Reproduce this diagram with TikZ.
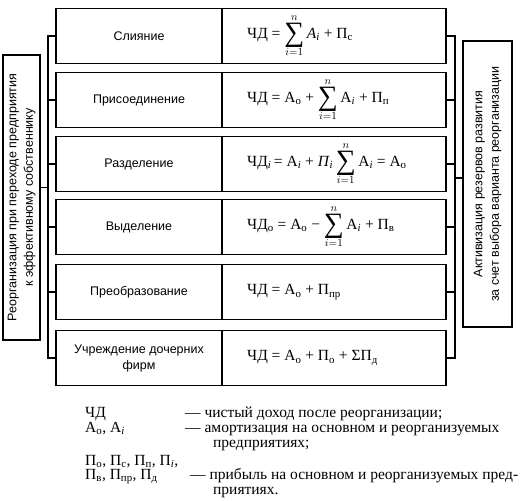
\documentclass[tikz,border=0pt]{standalone}
\usepackage{fontspec}
\setmainfont{Liberation Serif}
\newfontfamily\sfa{Liberation Sans}
\newcommand{\sub}[1]{\textsubscript{#1}}
\newcommand{\bigsum}{$\mathop{\vcenter{\hbox{\fontsize{28}{28}\selectfont ∑}}}\limits^{n}_{i=1}$}
\begin{document}
\begin{tikzpicture}[x=1pt,y=-1pt,
  cell/.style={draw,line width=1.1pt,minimum height=55pt,inner sep=0pt,outer sep=0pt},
  lcell/.style={cell,minimum width=166pt,font=\sfa\fontsize{12.5}{16}\selectfont,align=center},
  rcell/.style={cell,minimum width=224pt},
  fm/.style={anchor=west,font=\fontsize{15.5}{17}\selectfont,inner sep=0pt},
  br/.style={line width=1.8pt},
  side/.style={draw,line width=1.1pt,font=\sfa\fontsize{12.5}{16.5}\selectfont,align=center,rotate=90,inner sep=0pt,outer sep=0pt},
  lg/.style={anchor=base west,inner sep=0pt,font=\fontsize{15.5}{17}\selectfont}]
\useasboundingbox (0,0) rectangle (528,501);
% left cells
\node[lcell] (L1) at (139,36) {Слияние};
\node[lcell] (L2) at (139,100) {Присоединение};
\node[lcell] (L3) at (139,164) {Разделение};
\node[lcell] (L4) at (139,227) {Выделение};
\node[lcell] (L5) at (139,292) {Преобразование};
\node[lcell] (L6) at (139,358) {Учреждение дочерних\\фирм};
% right cells
\node[rcell] (R1) at (334,36) {};
\node[rcell] (R2) at (334,100) {};
\node[rcell] (R3) at (334,164) {};
\node[rcell] (R4) at (334,227) {};
\node[rcell] (R5) at (334,292) {};
\node[rcell] (R6) at (334,358) {};
% formulas
\node[fm] (F1) at ([xshift=25pt]R1.west) {ЧД = \bigsum\,\textit{A}\sub{\textit{i}} + П\sub{с}};
\node[fm] (F2) at ([xshift=25pt]R2.west) {ЧД = А\sub{о} + \bigsum\,А\sub{\textit{i}} + П\sub{п}};
\node[fm] (F3) at ([xshift=25pt]R3.west) {ЧД\sub{\textit{i}}\,= А\sub{\textit{i}} + \textit{П}\sub{\textit{i}}\,\bigsum\,А\sub{\textit{i}} = А\sub{о}};
\node[fm] (F4) at ([xshift=25pt]R4.west) {ЧД\sub{о} = А\sub{о} − \bigsum\,А\sub{\textit{i}} + П\sub{в}};
\node[fm] (F5) at ([xshift=25pt]R5.west) {ЧД = А\sub{о} + П\sub{пр}};
\node[fm] (F6) at ([xshift=25pt]R6.west) {ЧД = А\sub{о} + П\sub{о} + ΣП\sub{д}};
% side boxes
\node[side,minimum width=285pt,minimum height=37pt] (LB) at (21.5,197.5)
  {Реорганизация при переходе предприятия\\к эффективному собственнику};
\node[side,minimum width=286pt,minimum height=49pt] (RB) at (487.5,184)
  {Активизация резервов развития\\за счет выбора варианта реорганизации};
% brackets
\coordinate (lbx) at (48,0);
\coordinate (rbx) at (455,0);
\draw[br] (L1.west) -- (L1.west -| lbx) -- (L6.west -| lbx) -- (L6.west);
\foreach \i in {2,3,4,5} \draw[br] (L\i.west) -- (L\i.west -| lbx);
\draw[br] ([yshift=10pt]LB.south) -- ([yshift=10pt]LB.south -| lbx);
\draw[br] (R1.east) -- (R1.east -| rbx) -- (R6.east -| rbx) -- (R6.east);
\foreach \i in {2,3,4,5} \draw[br] (R\i.east) -- (R\i.east -| rbx);
\draw[br] ([yshift=6pt]RB.north) -- ([yshift=6pt]RB.north -| rbx);
% legend
\node[lg] (k1) at (85,417) {ЧД};
\node[lg] (d1) at (185,417) {— чистый доход после реорганизации;};
\node[lg] (k2) at (85,432) {А\sub{о}, А\sub{\textit{i}}};
\node[lg] (d2) at (185,432) {— амортизация на основном и реорганизуемых};
\node[lg] (d2b) at (213,447) {предприятиях;};
\node[lg] (k3) at (85,465) {П\sub{о}, П\sub{с}, П\sub{п}, П\sub{\textit{i}},};
\node[lg] (k4) at (85,479) {П\sub{в}, П\sub{пр}, П\sub{д}};
\node[lg] (d3) at (190,479) {\makebox[328pt][s]{— прибыль на основном и реорганизуемых пред-}};
\node[lg] (d3b) at (213,494) {приятиях.};
\end{tikzpicture}
\end{document}
